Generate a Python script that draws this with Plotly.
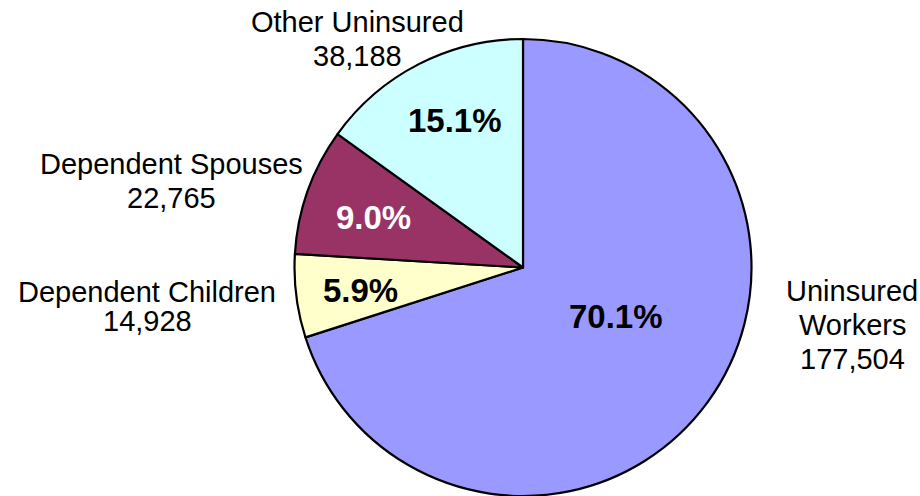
import plotly.graph_objects as go

categories = ["Uninsured Workers", "Dependent Children", "Dependent Spouses", "Other Uninsured"]
values = [177504, 14928, 22765, 38188]
percent_labels = ["70.1%", "5.9%", "9.0%", "15.1%"]
value_labels = ["177,504", "14,928", "22,765", "38,188"]
colors = ["#9999FF", "#FFFFCC", "#993366", "#CCFFFF"]
pct_text_colors = ["black", "black", "white", "black"]

W, H = 920, 496
FONT = "Liberation Sans, Arial, sans-serif"

fig = go.Figure()
fig.add_trace(go.Pie(
    labels=categories,
    values=values,
    sort=False,
    direction="clockwise",
    rotation=0,
    marker=dict(colors=colors, line=dict(color="black", width=2.2)),
    textinfo="none",
    hoverinfo="label+value+percent",
    showlegend=False,
    domain=dict(x=[(523 - 229) / W, (523 + 229) / W], y=[0, (496 - 268 + 229) / H]),
))

def ann(text, px, py, size, color="black", bold=False):
    fig.add_annotation(
        text=f"<b>{text}</b>" if bold else text,
        x=px / W, y=1 - py / H, xref="paper", yref="paper",
        xanchor="center", yanchor="middle", showarrow=False,
        font=dict(family=FONT, size=size, color=color),
    )

# percentage labels inside slices
pct_pos = [(616, 316), (360, 290), (373, 218), (455, 120)]
for t, c, (px, py) in zip(percent_labels, pct_text_colors, pct_pos):
    ann(t, px, py, 33, c, bold=True)

# outside category labels (each line placed separately)
outside = [
    (["Uninsured", "Workers", value_labels[0]], 852, [291, 325, 359]),
    (["Dependent Children", value_labels[1]], 147, [292, 321]),
    (["Dependent Spouses", value_labels[2]], 171, [164, 198]),
    (["Other Uninsured", value_labels[3]], 357, [22, 56]),
]
for lines, px, pys in outside:
    for line, py in zip(lines, pys):
        ann(line, px, py, 29)

fig.update_layout(
    width=W, height=H,
    margin=dict(l=0, r=0, t=0, b=0),
    paper_bgcolor="white", plot_bgcolor="white",
    font=dict(family=FONT),
)

fig.write_html(
    "out.html",
    config={"displayModeBar": False},
    post_script="document.body.style.margin='0';document.body.style.overflow='hidden';",
)
